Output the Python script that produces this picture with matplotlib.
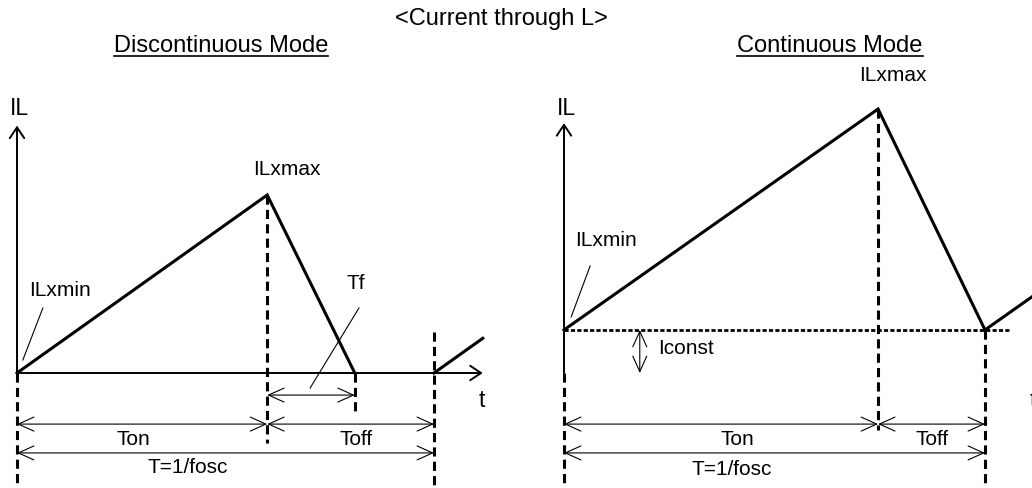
import matplotlib
matplotlib.use("Agg")
import matplotlib.pyplot as plt
from matplotlib.lines import Line2D

plt.rcParams['font.family'] = ['Liberation Sans', 'DejaVu Sans']

# --- waveform data (time units: T = 10, current units arbitrary) ---
# discontinuous mode
disc_t = [0.0, 6.0, 8.1]
disc_il = [0.0, 10.0, 0.0]
disc_next_t = [10.0, 11.17]
disc_next_il = [0.0, 1.95]
disc_ton = 6.0
disc_tf_end = 8.1
disc_period = 10.0

# continuous mode
cont_t = [0.0, 7.46, 10.0, 11.5]
cont_il = [2.42, 14.83, 2.42, 4.92]
cont_ton = 7.46
cont_period = 10.0
cont_iconst = 2.42

W, H = 1032, 488
fig = plt.figure(figsize=(W / 100, H / 100), dpi=100)

LBL = 15
TTL = 17
THICK = 2.2
AX_LW = 1.4
DIM_LW = 0.8
dash = (0, (3.0, 1.7))
dot = (0, (1.5, 0.8))
DIM_STYLE = '<->,head_length=0.8,head_width=0.36'


def panel(ox, oy, sx, sy):
    # axes over the whole figure, origin of the panel at pixel (ox, oy)
    ax = fig.add_axes([0, 0, 1, 1])
    ax.set_xlim(-ox / sx, (W - ox) / sx)
    ax.set_ylim((oy - H) / sy, oy / sy)
    ax.axis('off')
    ax.patch.set_alpha(0)
    return ax


def arrow(ax, x0, y0, x1, y1, lw=AX_LW):
    ax.annotate('', xy=(x1, y1), xytext=(x0, y0),
                arrowprops=dict(arrowstyle='->,head_length=0.6,head_width=0.4',
                                lw=lw, color='black', shrinkA=0, shrinkB=0,
                                mutation_scale=13))


def dim(ax, x0, y0, x1, y1):
    ax.annotate('', xy=(x1, y1), xytext=(x0, y0),
                arrowprops=dict(arrowstyle=DIM_STYLE, lw=DIM_LW, color='black',
                                shrinkA=0, shrinkB=0, mutation_scale=14))


def vdash(ax, x, y0, y1):
    ax.plot([x, x], [y0, y1], color='black', lw=THICK, ls=dash)


# ---------------- left: discontinuous ----------------
ax1 = panel(17, 373, 41.7, 17.8)
bottom1 = ax1.get_ylim()[0]
arrow(ax1, 0, 0, 0, 13.9)
arrow(ax1, 0, 0, 11.17, 0)
ax1.plot(disc_t, disc_il, color='black', lw=THICK, solid_joinstyle='miter')
ax1.plot(disc_next_t, disc_next_il, color='black', lw=THICK)
vdash(ax1, 0, 0, bottom1)
vdash(ax1, disc_ton, max(disc_il), -3.93)
vdash(ax1, disc_tf_end, 0, -2.36)
vdash(ax1, disc_period, 2.3, bottom1)
dim(ax1, disc_ton, -1.24, disc_tf_end, -1.24)
dim(ax1, 0, -2.87, disc_ton, -2.87)
dim(ax1, disc_ton, -2.87, disc_period, -2.87)
dim(ax1, 0, -4.49, disc_period, -4.49)
ax1.plot([0.62, 0.14], [3.65, 0.73], color='black', lw=DIM_LW)
ax1.plot([8.2, 7.03], [3.65, -0.84], color='black', lw=DIM_LW)

ax1.text(0.05, 14.5, 'IL', fontsize=16.5, ha='center', va='baseline')
ax1.text(11.15, -1.91, 't', fontsize=16.5, ha='center', va='baseline')
ax1.text(6.47, 11.12, 'ILxmax', fontsize=LBL, ha='center', va='baseline')
ax1.text(1.03, 4.33, 'ILxmin', fontsize=LBL, ha='center', va='baseline')
ax1.text(8.13, 4.72, 'Tf', fontsize=LBL, ha='center', va='baseline')
ax1.text(2.78, -4.04, 'Ton', fontsize=LBL, ha='center', va='baseline')
ax1.text(8.13, -4.04, 'Toff', fontsize=LBL, ha='center', va='baseline')
ax1.text(4.1, -5.62, 'T=1/fosc', fontsize=LBL, ha='center', va='baseline')

# ---------------- right: continuous ----------------
ax2 = panel(564, 373, 42.1, 17.8)
bottom2 = ax2.get_ylim()[0]
arrow(ax2, 0, 0, 0, 14.04)
arrow(ax2, 0, 0, 11.17, 0)
ax2.plot([0, 10.6], [cont_iconst, cont_iconst], color='black', lw=2.0, ls=dot)
ax2.plot(cont_t, cont_il, color='black', lw=THICK, solid_joinstyle='miter')
vdash(ax2, 0, 0, bottom2)
vdash(ax2, cont_ton, max(cont_il), -3.2)
vdash(ax2, cont_period, cont_iconst, bottom2)
dim(ax2, 1.8, 0, 1.8, cont_iconst)
dim(ax2, 0, -2.87, cont_ton, -2.87)
dim(ax2, cont_ton, -2.87, cont_period, -2.87)
dim(ax2, 0, -4.49, cont_period, -4.49)
ax2.plot([0.62, 0.17], [6.01, 3.15], color='black', lw=DIM_LW)

ax2.text(0.05, 14.5, 'IL', fontsize=16.5, ha='center', va='baseline')
ax2.text(11.14, -1.91, 't', fontsize=16.5, ha='center', va='baseline')
ax2.text(7.81, 16.4, 'ILxmax', fontsize=LBL, ha='center', va='baseline')
ax2.text(1.0, 7.13, 'ILxmin', fontsize=LBL, ha='center', va='baseline')
ax2.text(2.23, 1.07, 'Iconst', fontsize=LBL, ha='left', va='baseline')
ax2.text(4.13, -4.04, 'Ton', fontsize=LBL, ha='center', va='baseline')
ax2.text(8.74, -4.04, 'Toff', fontsize=LBL, ha='center', va='baseline')
ax2.text(3.99, -5.73, 'T=1/fosc', fontsize=LBL, ha='center', va='baseline')

# ---------------- titles ----------------
fig.text(501 / W, 1 - 25 / H, '<Current through L>', fontsize=TTL,
         ha='center', va='baseline')
subs = [fig.text(221 / W, 1 - 52 / H, 'Discontinuous Mode', fontsize=TTL,
                 ha='center', va='baseline'),
        fig.text(830 / W, 1 - 52 / H, 'Continuous Mode', fontsize=TTL,
                 ha='center', va='baseline')]

fig.canvas.draw()
for s in subs:
    bb = s.get_window_extent()
    yu = 1 - 55.5 / H
    fig.add_artist(Line2D([bb.x0 / W, bb.x1 / W], [yu, yu],
                          transform=fig.transFigure, color='black', lw=1.2))

fig.savefig('out.png', dpi=100, facecolor='white')
